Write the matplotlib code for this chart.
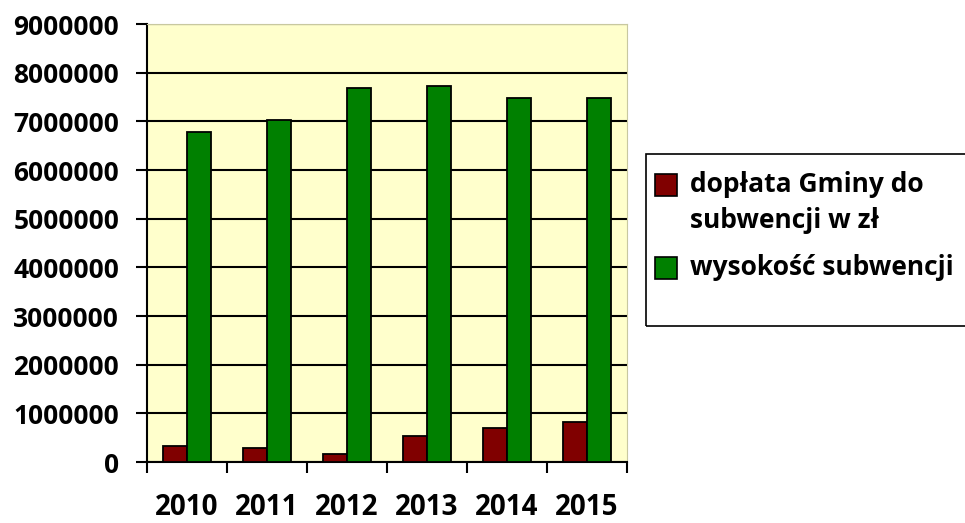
import matplotlib.pyplot as plt
import numpy as np
from matplotlib.patches import Rectangle

years = ['2010', '2011', '2012', '2013', '2014', '2015']
doplata = [335000, 287000, 170000, 534000, 698000, 820000]
subwencja = [6780000, 7020000, 7680000, 7720000, 7490000, 7490000]
labels = ['dopłata Gminy do\nsubwencji w zł', 'wysokość subwencji']

RED = '#800000'
GREEN = '#008000'
FONT = 'Open Sans'
FS = 19

plt.rcParams['font.family'] = [FONT, 'DejaVu Sans']
plt.rcParams['font.weight'] = 'bold'

fig = plt.figure(figsize=(9.65, 5.23), dpi=100)
ax = fig.add_axes([0.1523, 0.1166, 0.4974, 0.8374])
ax.set_facecolor('#FFFFCC')

x = np.arange(len(years))
w = 0.3
ax.bar(x - w / 2, doplata, w, color=RED, edgecolor='black', linewidth=1.3, zorder=3)
ax.bar(x + w / 2, subwencja, w, color=GREEN, edgecolor='black', linewidth=1.3, zorder=3)

ax.set_xlim(-0.5, len(years) - 0.5)
ax.set_ylim(0, 9000000)
ax.set_yticks(np.arange(0, 9000001, 1000000))
ax.set_yticklabels([str(v) for v in range(0, 9000001, 1000000)], fontsize=FS, fontweight='bold')
ax.yaxis.grid(True, color='black', linewidth=1.5, zorder=1)
ax.set_axisbelow(True)

ax.set_xticks(np.arange(len(years) + 1) - 0.5)
ax.set_xticklabels([])
ax.set_xticks(x, minor=True)
ax.set_xticklabels(years, minor=True, fontsize=20, fontweight='bold')
ax.tick_params(axis='x', which='major', direction='out', length=8, width=1.5)
ax.tick_params(axis='x', which='minor', length=0, pad=22)
ax.tick_params(axis='y', direction='out', length=8, width=1.5, pad=12)

for s in ['left', 'bottom']:
    ax.spines[s].set_linewidth(1.5)
for s in ['top', 'right']:
    ax.spines[s].set_color('#c8c8a0')
    ax.spines[s].set_linewidth(0.8)

# legend drawn by hand so the handle sits on the first line of the wrapped label
H = 1 / 523
W = 1 / 965
fig.patches.append(Rectangle((646 * W, 1 - 326 * H), 330 * W, 172 * H, transform=fig.transFigure,
                             fill=False, edgecolor='black', linewidth=1.2))
rows = [(RED, labels[0], 185), (GREEN, labels[1], 268)]
for color, text, yc in rows:
    fig.patches.append(Rectangle((655 * W, 1 - (yc + 11) * H), 22 * W, 22 * H, transform=fig.transFigure,
                                 facecolor=color, edgecolor='black', linewidth=1.2))
    fig.text(690 * W, 1 - (yc - 14) * H, text, fontsize=FS, fontweight='bold', va='top', ha='left',
             linespacing=1.45)

fig.savefig('out.png', dpi=100)
